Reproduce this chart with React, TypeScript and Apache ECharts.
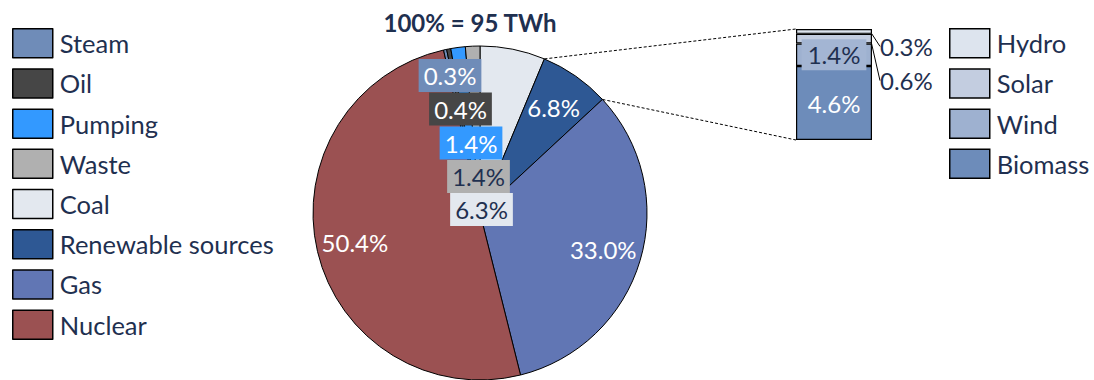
import React, { useEffect, useRef } from "react";
import * as echarts from "echarts";

// Generation mix (share of 95 TWh), pie runs clockwise from 12 o'clock
const mixNames = ["Coal", "Renewable sources", "Gas", "Nuclear", "Steam", "Oil", "Pumping", "Waste"];
const mixValues = [6.3, 6.8, 33.0, 50.4, 0.3, 0.4, 1.4, 1.4];
const mixColors = ["#e3e8ef", "#2e5894", "#6176b4", "#9b5152", "#6f8cb8", "#464646", "#3399ff", "#b0b0b0"];
const mixLegendOrder = ["Steam", "Oil", "Pumping", "Waste", "Coal", "Renewable sources", "Gas", "Nuclear"];

// Breakdown of renewable sources, stacked bottom to top
const renewNames = ["Biomass", "Wind", "Solar", "Hydro"];
const renewValues = [4.6, 1.4, 0.6, 0.3];
const renewColors = ["#6d8cba", "#9eb1d0", "#c3cde0", "#dde4ee"];
const renewLegendOrder = ["Hydro", "Solar", "Wind", "Biomass"];

const TITLE = "100% = 95 TWh";

const NAVY = "#1f3050";
const FONT = "Lato";
const CX = 480;
const CY = 213;
const R = 167;
const BAR_LEFT = 796;
const BAR_TOP = 29;
const BAR_W = 76;
const BAR_H = 111;

// small slices get their labels stacked above the centre of the pie
const stackedLabelOffsets: Record<string, [number, number]> = {
  Steam: [-30, -137.5],
  Oil: [-19.5, -104],
  Pumping: [-9, -70],
  Waste: [-1.5, -36.5],
  Coal: [1.5, -3.5],
};
const darkTextSlices = ["Coal", "Waste"];

const total = mixValues.reduce((a, b) => a + b, 0);

function angleAt(cum: number) {
  return (cum / total) * Math.PI * 2;
}

function rimPoint(cum: number): [number, number] {
  const a = angleAt(cum);
  return [CX + R * Math.sin(a), CY - R * Math.cos(a)];
}

export default function App() {
  const ref = useRef<HTMLDivElement>(null);

  useEffect(() => {
    document.body.style.margin = "0";
    if (!ref.current) return;
    const chart = echarts.init(ref.current, undefined, { renderer: "svg" });

    const pieData = mixNames.map((name, i) => {
      const stacked = stackedLabelOffsets[name] != null;
      return {
        name,
        value: mixValues[i],
        itemStyle: { color: mixColors[i] },
        label: {
          color: darkTextSlices.includes(name) ? NAVY : "#ffffff",
          backgroundColor: stacked ? mixColors[i] : "transparent",
          padding: stacked ? [3, 5, 2, 5] : 0,
        },
      };
    });

    const renewTotal = renewValues.reduce((a, b) => a + b, 0);

    const barSeries = renewNames.map((name, i) => {
      const base: any = {
        type: "bar",
        name,
        stack: "renew",
        data: [renewValues[i]],
        barWidth: BAR_W,
        itemStyle: { color: renewColors[i], borderColor: "#000", borderWidth: 1.2 },
        label: {
          show: true,
          fontFamily: FONT,
          fontSize: 24,
          formatter: (p: any) => p.value.toFixed(1) + "%",
        },
      };
      if (name === "Biomass") {
        base.label.position = "inside";
        base.label.color = "#ffffff";
      } else if (name === "Wind") {
        base.label.position = "inside";
        base.label.color = NAVY;
        base.label.backgroundColor = "#a3b5d3";
        base.label.padding = [4, 6, 3, 6];
      } else {
        base.label.position = "right";
        base.label.distance = 8;
        base.label.color = NAVY;
        base.labelLayout = { dy: name === "Hydro" ? 15 : 42 };
        base.labelLine = { show: true, lineStyle: { color: "#000", width: 1 } };
      }
      return base;
    });

    const legendCommon = {
      orient: "vertical",
      top: 28,
      padding: 0,
      itemWidth: 40,
      itemHeight: 29,
      itemGap: 9.7,
      icon: "rect",
      itemStyle: { borderColor: "#000", borderWidth: 1.5 },
      textStyle: {
        fontFamily: FONT,
        fontSize: 25.5,
        lineHeight: 29,
        color: NAVY,
        padding: [0, 0, 0, 2],
      },
      selectedMode: false,
    };

    chart.setOption({
      animation: false,
      legend: [
        { ...legendCommon, left: 12, data: mixLegendOrder },
        { ...legendCommon, left: 949, data: renewLegendOrder },
      ],
      grid: { left: BAR_LEFT, top: BAR_TOP, width: BAR_W, height: BAR_H },
      xAxis: { type: "category", data: ["Renewable sources"], show: false },
      yAxis: { type: "value", min: 0, max: renewTotal, show: false },
      series: [
        {
          type: "pie",
          center: [CX, CY],
          radius: R,
          startAngle: 90,
          clockwise: true,
          avoidLabelOverlap: false,
          itemStyle: { borderColor: "#000", borderWidth: 1 },
          label: {
            show: true,
            position: "inside",
            fontFamily: FONT,
            fontSize: 24,
            lineHeight: 28,
            formatter: (p: any) => p.value.toFixed(1) + "%",
          },
          labelLine: { show: false },
          labelLayout: (p: any) => {
            const name = mixNames[p.dataIndex];
            const off = stackedLabelOffsets[name];
            if (off) {
              return { x: CX + off[0], y: CY + off[1], align: "center", verticalAlign: "middle" };
            }
            let cum = 0;
            for (let k = 0; k < p.dataIndex; k++) cum += mixValues[k];
            const a = angleAt(cum + mixValues[p.dataIndex] / 2);
            const d = R * 0.77;
            return {
              x: CX + d * Math.sin(a),
              y: CY - d * Math.cos(a),
              align: "center",
              verticalAlign: "middle",
            };
          },
          data: pieData,
        },
        ...barSeries,
      ],
    });

    // dashed connectors from the renewable slice to the breakdown column
    const ri = mixNames.indexOf("Renewable sources");
    let cumStart = 0;
    for (let k = 0; k < ri; k++) cumStart += mixValues[k];
    const pStart = rimPoint(cumStart);
    const pEnd = rimPoint(cumStart + mixValues[ri]);
    const topPx = chart.convertToPixel({ gridIndex: 0 }, [0, renewTotal]) as number[];
    const botPx = chart.convertToPixel({ gridIndex: 0 }, [0, 0]) as number[];
    const barLeftPx = topPx[0] - BAR_W / 2;

    chart.setOption({
      graphic: [
        {
          type: "line",
          shape: { x1: pStart[0], y1: pStart[1], x2: barLeftPx, y2: topPx[1] },
          style: { stroke: "#000", lineWidth: 1, lineDash: [3, 2] },
        },
        {
          type: "line",
          shape: { x1: pEnd[0], y1: pEnd[1], x2: barLeftPx, y2: botPx[1] },
          style: { stroke: "#000", lineWidth: 1, lineDash: [3, 2] },
        },
        {
          type: "text",
          x: 470,
          y: 22,
          style: {
            text: TITLE,
            align: "center",
            verticalAlign: "middle",
            font: `bold 24px ${FONT}`,
            fill: NAVY,
          },
        },
      ],
    });

    return () => chart.dispose();
  }, []);

  return <div ref={ref} style={{ width: 1094, height: 380 }} />;
}
